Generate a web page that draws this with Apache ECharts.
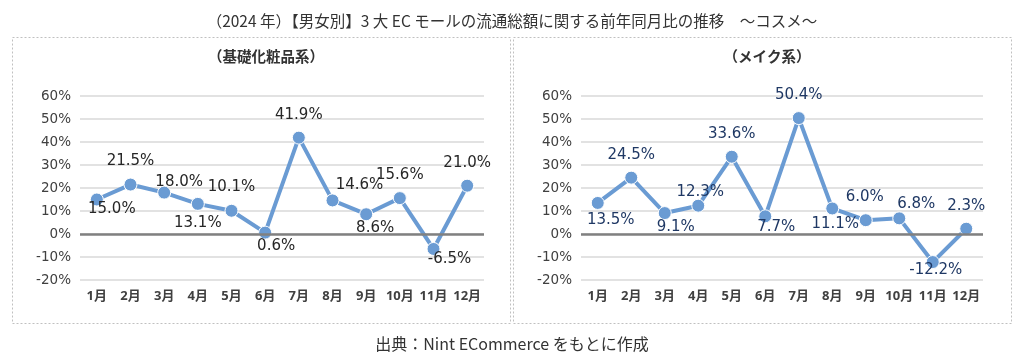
<!DOCTYPE html>
<html>
<head>
<meta charset="utf-8">
<script src="https://cdn.jsdelivr.net/npm/echarts@6/dist/echarts.min.js"></script>
<style>
html,body{margin:0;padding:0;background:#fff;}
#c{width:1024px;height:361px;}
</style>
</head>
<body>
<div id="c"></div>
<script>
var months = ['1月','2月','3月','4月','5月','6月','7月','8月','9月','10月','11月','12月'];
var skincare = [15.0, 21.5, 18.0, 13.1, 10.1, 0.6, 41.9, 14.6, 8.6, 15.6, -6.5, 21.0];
var makeup = [13.5, 24.5, 9.1, 12.3, 33.6, 7.7, 50.4, 11.1, 6.0, 6.8, -12.2, 2.3];
var yTicks = [-20, -10, 0, 10, 20, 30, 40, 50, 60];
var mainTitle = '（2024 年）【男女別】3 大 EC モールの流通総額に関する前年同月比の推移　～コスメ～';
var leftTitle = '（基礎化粧品系）';
var rightTitle = '（メイク系）';
var sourceText = '出典：Nint ECommerce をもとに作成';

// label offsets (presentation only)
var skincareLabelOffsets = [[15,10],[0,-23],[15,-10],[0,19],[0,-24],[11,13],[0,-23],[27,-15],[9,14],[0,-23],[16,10],[0,-23]];
var makeupLabelOffsets = [[13,17],[0,-23],[11,14],[2,-14],[0,-23],[11,11],[0,-23],[3,16],[-1,-23],[17,-14],[3,8],[0,-23]];

var NUMFONT = '"DejaVu Sans", "Noto Sans", sans-serif';
var CJK = '"Noto Sans CJK JP", sans-serif';
var LINE_COLOR = '#6a9bd3';

function mkData(vals, offs) {
  return vals.map(function (v, i) {
    return { value: v, label: { offset: offs[i] } };
  });
}

function yAxis(idx) {
  return {
    type: 'value', gridIndex: idx, min: yTicks[0], max: yTicks[yTicks.length - 1], interval: 10,
    axisLine: { show: false }, axisTick: { show: false },
    axisLabel: { formatter: '{value}%', color: '#404040', fontSize: 13.5, fontFamily: NUMFONT, margin: 9 },
    splitLine: { lineStyle: { color: '#d9d9d9', width: 1.5 } }
  };
}
function xAxis(idx) {
  return {
    type: 'category', gridIndex: idx, data: months, boundaryGap: true,
    axisLine: { show: false }, axisTick: { show: false },
    axisLabel: { color: '#404040', fontSize: 13, fontFamily: '"Noto Sans", "Noto Sans CJK JP", sans-serif', fontWeight: 'bold', margin: 10, interval: 0 }
  };
}
function series(idx, vals, offs, labelColor) {
  return {
    type: 'line', xAxisIndex: idx, yAxisIndex: idx, data: mkData(vals, offs),
    symbol: 'circle', symbolSize: 13,
    lineStyle: { color: LINE_COLOR, width: 4 },
    itemStyle: { color: LINE_COLOR, borderColor: '#ffffff', borderWidth: 1 },
    label: { show: true, position: 'inside', color: labelColor, fontSize: 15, fontFamily: NUMFONT,
      formatter: function (p) { return p.value.toFixed(1) + '%'; } },
    markLine: {
      silent: true, symbol: 'none', label: { show: false },
      lineStyle: { color: '#808080', width: 2.5, type: 'solid' },
      data: [{ yAxis: 0 }]
    },
    z: 3
  };
}

var chart = echarts.init(document.getElementById('c'));
chart.setOption({
  backgroundColor: '#ffffff',
  animation: false,
  title: [
    { text: mainTitle, left: 'center', top: 8, textStyle: { fontSize: 15.5, fontWeight: 'normal', color: '#333', fontFamily: CJK } },
    { text: leftTitle, left: 261, top: 44, textAlign: 'center', textStyle: { fontSize: 14.5, fontWeight: 'bold', color: '#333', fontFamily: CJK } },
    { text: rightTitle, left: 762, top: 44, textAlign: 'center', textStyle: { fontSize: 14.5, fontWeight: 'bold', color: '#333', fontFamily: CJK } },
    { text: sourceText, left: 'center', top: 331, textStyle: { fontSize: 16, fontWeight: 'normal', color: '#333', fontFamily: CJK } }
  ],
  graphic: [
    { type: 'rect', shape: { x: 12.5, y: 37.5, width: 498, height: 286 }, style: { fill: 'none', stroke: '#c0c0c0', lineWidth: 1, lineDash: [2, 2] }, z: -1 },
    { type: 'rect', shape: { x: 513.5, y: 37.5, width: 498, height: 286 }, style: { fill: 'none', stroke: '#c0c0c0', lineWidth: 1, lineDash: [2, 2] }, z: -1 }
  ],
  grid: [
    { left: 80, width: 404, top: 96, height: 184 },
    { left: 581, width: 402, top: 96, height: 184 }
  ],
  xAxis: [xAxis(0), xAxis(1)],
  yAxis: [yAxis(0), yAxis(1)],
  series: [
    series(0, skincare, skincareLabelOffsets, '#262626'),
    series(1, makeup, makeupLabelOffsets, '#1f3864')
  ]
});
</script>
</body>
</html>
